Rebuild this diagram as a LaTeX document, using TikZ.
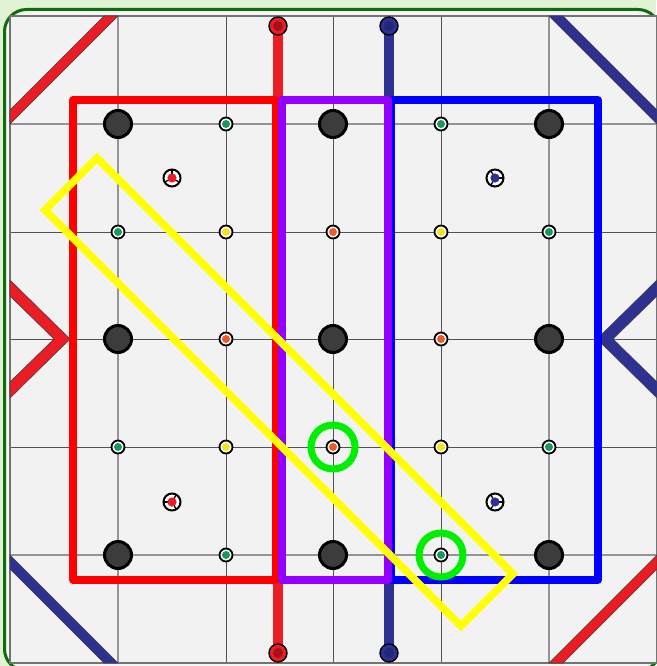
\documentclass[tikz,border=0pt]{standalone}
\definecolor{bgg}{HTML}{E2F3D5}
\definecolor{frameg}{HTML}{0E6E0E}
\definecolor{framefill}{HTML}{F5F5F5}
\definecolor{boardc}{HTML}{F2F2F2}
\definecolor{barred}{HTML}{EC1C24}
\definecolor{barnavy}{HTML}{2E3192}
\definecolor{capred}{HTML}{A3111A}
\definecolor{capnavy}{HTML}{23267A}
\definecolor{rectred}{HTML}{FF0000}
\definecolor{rectpurple}{HTML}{9400FF}
\definecolor{rectblue}{HTML}{0000FF}
\definecolor{yel}{HTML}{FFFF00}
\definecolor{ringgreen}{HTML}{00EE00}
\definecolor{stonec}{HTML}{3C3C3C}
\definecolor{dgreen}{HTML}{179A58}
\definecolor{dyellow}{HTML}{F4E21E}
\definecolor{dorange}{HTML}{F0582A}
\begin{document}
\begin{tikzpicture}[x=1pt,y=-1pt,
  gridA/.style={draw=black!42,line width=1.1pt},
  gridB/.style={draw=black!68,line width=0.8pt},
  edgebar/.style={draw=black!75,line width=0.6pt},
  vbar/.style={draw=black!75,line width=0.6pt,double=#1,double distance=9.4pt},
  cap/.style 2 args={circle,draw=black,line width=1.4pt,fill=#1,minimum size=18pt,inner sep=0pt,
    path picture={\fill[#2] (path picture bounding box.center) circle (5pt);}},
  stone/.style={circle,draw=black,line width=3pt,fill=stonec,minimum size=27pt,inner sep=0pt},
  sdot/.style={circle,draw=black,line width=1.8pt,fill=white,minimum size=13pt,inner sep=0pt,
    path picture={\fill[#1] (path picture bounding box.center) circle (4pt);}},
  marker/.style 2 args={circle,draw=black,line width=2pt,fill=white,minimum size=17pt,inner sep=0pt,
    path picture={\foreach \a in {#2}{\draw[black,line width=1.3pt] (path picture bounding box.center) -- ++(\a:11pt);}
      \fill[#1] (path picture bounding box.center) circle (4.6pt);}},
  zone/.style={draw=#1,line width=7.5pt,line join=round},
  hl/.style={circle,draw=ringgreen,line width=7pt,minimum size=44pt,inner sep=0pt}
]
\useasboundingbox (0,0) rectangle (656,666);
\fill[bgg] (0,0) rectangle (656,666);
\draw[draw=frameg,fill=framefill,line width=3pt,rounded corners=22pt] (4.5,9.5) rectangle (660,671);
% board
\fill[boardc] (10,16) rectangle (657,663);
\foreach \c in {118,549}{\draw[gridA] (\c,16) -- (\c,663); \draw[gridA] (10,\c+6) -- (657,\c+6);}
\foreach \c in {226,333,441}{\draw[gridB] (\c,16) -- (\c,663);}
\foreach \r in {232,339,447}{\draw[gridB] (10,\r) -- (657,\r);}
\draw[gridA,draw=black!55] (10,16) rectangle (657,663);
% corner bars and chevrons
\filldraw[edgebar,fill=barred] (10,110) -- (10,124) -- (118,16) -- (104,16) -- cycle;
\filldraw[edgebar,fill=barnavy] (549,16) -- (563,16) -- (657,110) -- (657,124) -- cycle;
\filldraw[edgebar,fill=barnavy] (10,555) -- (118,663) -- (104,663) -- (10,569) -- cycle;
\filldraw[edgebar,fill=barred] (549,663) -- (657,555) -- (657,569) -- (563,663) -- cycle;
\filldraw[edgebar,fill=barred] (10,280) -- (70,339) -- (10,398) -- (10,382) -- (54,339) -- (10,296) -- cycle;
\filldraw[edgebar,fill=barnavy] (657,280) -- (597,339) -- (657,398) -- (657,382) -- (613,339) -- (657,296) -- cycle;
% vertical bars with caps
\coordinate (rte) at (278,124);
\coordinate (nte) at (389,124);
\coordinate (rbe) at (278,555);
\coordinate (nbe) at (389,555);
\draw[vbar=barred] (rte) -- (278,26) node[cap={barred}{capred}] (rt) {};
\draw[vbar=barnavy] (nte) -- (389,26) node[cap={barnavy}{capnavy}] (nt) {};
\draw[vbar=barred] (rbe) -- (278,653) node[cap={barred}{capred}] (rb) {};
\draw[vbar=barnavy] (nbe) -- (389,653) node[cap={barnavy}{capnavy}] (nb) {};
% stones
\node[stone] (s11) at (118,124) {};
\node[stone] (s31) at (333,124) {};
\node[stone] (s51) at (549,124) {};
\node[stone] (s13) at (118,339) {};
\node[stone] (s33) at (333,339) {};
\node[stone] (s53) at (549,339) {};
\node[stone] (s15) at (118,555) {};
\node[stone] (s35) at (333,555) {};
\node[stone] (s55) at (549,555) {};
% small dots
\node[sdot=dgreen] (g21) at (226,124) {};
\node[sdot=dgreen] (g41) at (441,124) {};
\node[sdot=dgreen] (g12) at (118,232) {};
\node[sdot=dgreen] (g52) at (549,232) {};
\node[sdot=dgreen] (g14) at (118,447) {};
\node[sdot=dgreen] (g54) at (549,447) {};
\node[sdot=dgreen] (g25) at (226,555) {};
\node[sdot=dgreen] (g45) at (441,555) {};
\node[sdot=dyellow] (y22) at (226,232) {};
\node[sdot=dyellow] (y42) at (441,232) {};
\node[sdot=dyellow] (y24) at (226,447) {};
\node[sdot=dyellow] (y44) at (441,447) {};
\node[sdot=dorange] (o32) at (333,232) {};
\node[sdot=dorange] (o23) at (226,339) {};
\node[sdot=dorange] (o43) at (441,339) {};
\node[sdot=dorange] (o34) at (333,447) {};
% markers
\node[marker={barred}{90,210,330}] (m1) at (172,178) {};
\node[marker={barnavy}{0,120,240}] (m2) at (495,178) {};
\node[marker={barred}{180,60,300}] (m3) at (172,502) {};
\node[marker={barnavy}{0,120,240}] (m4) at (495,502) {};
% zones
\draw[zone=rectred] (73,100) rectangle (276,580);
\draw[zone=rectblue] (391,100) rectangle (598,580);
\draw[zone=rectpurple] (282,100) rectangle (388,580);
\draw[zone=yel,line join=miter] (97,158) -- (45,210) -- (461,626) -- (513,574) -- cycle;
% highlights
\node[hl] (h1) at (o34) {};
\node[hl] (h2) at (g45) {};
\end{tikzpicture}
\end{document}
